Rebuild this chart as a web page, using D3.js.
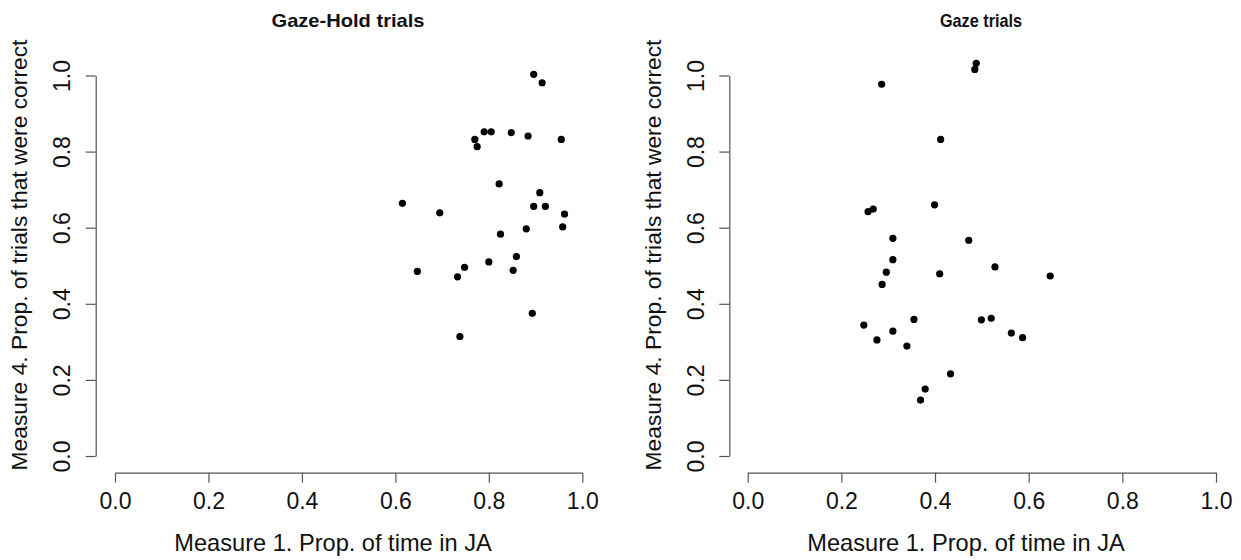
<html>
<head>
	<meta charset="UTF-8">
	<title>Joint attention scatter</title>
	<script src="https://cdn.jsdelivr.net/npm/d3@7"></script>
	<style>
		body {
			padding: 0;
			margin: 0;
			background: #fff;
		}
		text {
			font-family: "Liberation Sans", Arial, sans-serif;
			fill: #111;
		}
	</style>
</head>
<body>
	<script>
		// values
		var ticks = [0, 0.2, 0.4, 0.6, 0.8, 1.0];

		var gazeHoldX = [0.896, 0.914, 0.790, 0.805, 0.770, 0.775, 0.848, 0.884, 0.955,
			0.822, 0.909, 0.615, 0.695, 0.896, 0.921, 0.962, 0.958, 0.880, 0.825,
			0.859, 0.800, 0.852, 0.647, 0.748, 0.733, 0.893, 0.738];
		var gazeHoldY = [1.003, 0.981, 0.852, 0.852, 0.832, 0.813, 0.850, 0.841, 0.832,
			0.715, 0.692, 0.664, 0.639, 0.656, 0.656, 0.636, 0.602, 0.597, 0.583,
			0.524, 0.510, 0.488, 0.485, 0.496, 0.471, 0.375, 0.314];

		var gazeX = [0.488, 0.485, 0.286, 0.412, 0.268, 0.257, 0.399, 0.310, 0.472,
			0.310, 0.528, 0.296, 0.410, 0.287, 0.248, 0.355, 0.499, 0.520, 0.310,
			0.276, 0.563, 0.587, 0.340, 0.433, 0.379, 0.369, 0.646];
		var gazeY = [1.032, 1.016, 0.977, 0.832, 0.649, 0.642, 0.660, 0.572, 0.567,
			0.516, 0.497, 0.483, 0.479, 0.451, 0.344, 0.359, 0.358, 0.362, 0.328,
			0.305, 0.323, 0.311, 0.289, 0.216, 0.176, 0.147, 0.473];

		var xTitle = "Measure 1. Prop. of time in JA",
			yTitle = "Measure 4. Prop. of trials that were correct";

		var w = 1241,
			h = 560;

		var svg = d3.select("body").append("svg")
			.attr("width", w)
			.attr("height", h);

		function drawPanel(opt) {
			var x = d3.scaleLinear().domain([0, 1]).range([opt.x0, opt.x1]);
			var y = d3.scaleLinear().domain([0, 1]).range([456, 75.5]);
			var g = svg.append("g");

			// x axis, R style: detached below the plot
			var xa = g.append("g")
				.attr("transform", "translate(0," + 472.7 + ")")
				.call(d3.axisBottom(x).tickValues(ticks).tickFormat(d3.format(".1f"))
					.tickSize(10).tickSizeOuter(0));
			var ya = g.append("g")
				.attr("transform", "translate(" + opt.yAxisX + ",0)")
				.call(d3.axisLeft(y).tickValues(ticks).tickFormat(d3.format(".1f"))
					.tickSize(10).tickSizeOuter(0));

			[xa, ya].forEach(function(a) {
				a.select(".domain").attr("stroke", "#555").attr("stroke-width", 1.2);
				a.selectAll(".tick line").attr("stroke", "#555").attr("stroke-width", 1.2);
				a.selectAll("text")
					.style("font-family", "Liberation Sans, Arial, sans-serif")
					.style("font-size", "23px")
					.attr("fill", "#111");
			});
			xa.selectAll(".tick text").attr("dy", null).attr("y", 36.5);

			// rotated y tick labels
			ya.selectAll(".tick text")
				.attr("x", null).attr("dy", null)
				.attr("text-anchor", "middle")
				.attr("transform", "translate(" + (-25.5) + ",0) rotate(-90)");

			g.selectAll("circle")
				.data(opt.xs)
				.enter().append("circle")
				.attr("cx", function(d) { return x(d); })
				.attr("cy", function(d, i) { return y(opt.ys[i]); })
				.attr("r", 3.6)
				.attr("fill", "#000");

			g.append("text")
				.attr("x", opt.titleX)
				.attr("y", 27)
				.attr("text-anchor", "middle")
				.attr("textLength", opt.titleLen)
				.attr("lengthAdjust", "spacingAndGlyphs")
				.style("font-size", "19px")
				.style("font-weight", "bold")
				.text(opt.title);

			g.append("text")
				.attr("x", opt.xTitleX)
				.attr("y", 551)
				.attr("text-anchor", "middle")
				.style("font-size", "23.6px")
				.text(xTitle);

			g.append("text")
				.attr("transform", "translate(" + (opt.yAxisX - 68.7) + ",255) rotate(-90)")
				.attr("text-anchor", "middle")
				.style("font-size", "22.8px")
				.text(yTitle);
		}

		drawPanel({x0: 115, x1: 582.3, yAxisX: 95.7, xs: gazeHoldX, ys: gazeHoldY,
			title: "Gaze-Hold trials", titleX: 348, titleLen: 153, xTitleX: 333});
		drawPanel({x0: 747.7, x1: 1216, yAxisX: 729.3, xs: gazeX, ys: gazeY,
			title: "Gaze trials", titleX: 981, titleLen: 82, xTitleX: 966});
	</script>
</body>
</html>
